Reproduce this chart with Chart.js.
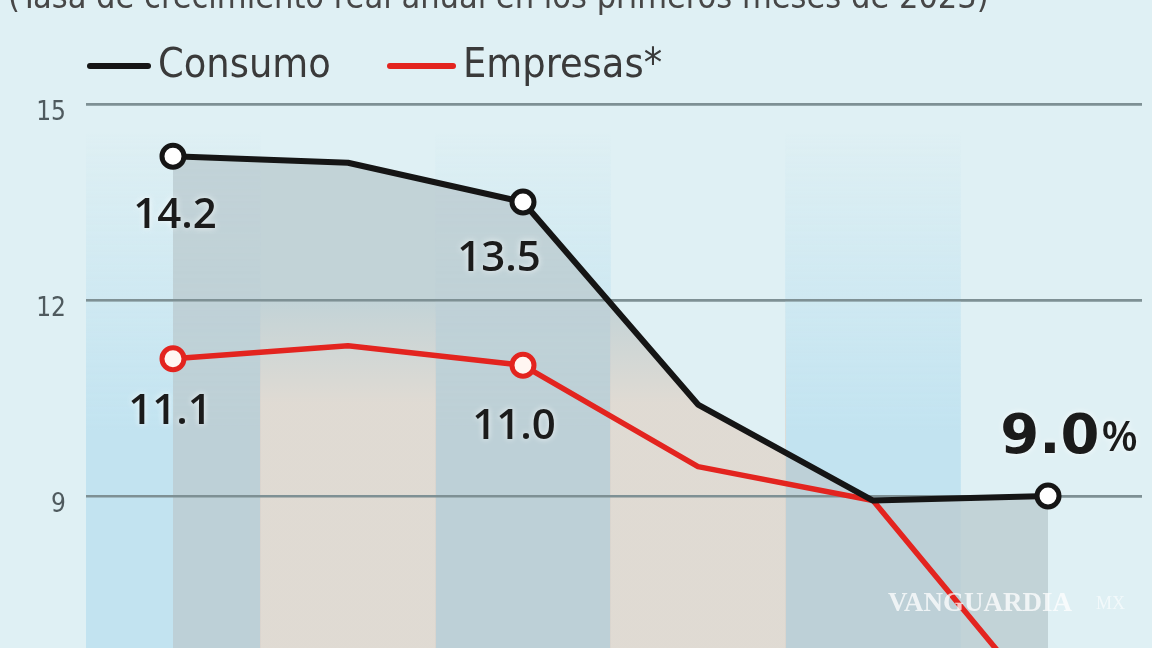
<!DOCTYPE html>
<html lang="es">
<head>
  <meta charset="UTF-8" />
  <title>Crédito al consumo y a empresas</title>
  <script src="https://cdn.jsdelivr.net/npm/chart.js@4.4.1/dist/chart.umd.min.js"></script>
  <style>
    html, body { margin: 0; padding: 0; background: #dff0f4; }
    .wrap { position: relative; width: 1152px; height: 648px; overflow: hidden; }
  </style>
</head>
<body>
  <div class="wrap"><canvas id="grafica" width="1152" height="648"></canvas></div>

  <script>
  const titulo   = '(Tasa de crecimiento real anual en los primeros meses de 2023)';
  const series   = ['Consumo', 'Empresas*'];
  const periodos = [0, 1, 2, 3, 4, 5];
  const consumo  = [14.2, 14.1, 13.5, 10.4, 8.93, 9.0];
  const empresas = [11.1, 11.3, 11.0, 9.45, 8.93, 5.7];
  const marcasConsumo  = [0, 2, 5];
  const marcasEmpresas = [0, 2];
  const etiquetasConsumo  = ['14.2', null, '13.5', null, null, '9.0'];
  const etiquetasEmpresas = ['11.1', null, '11.0', null, null, null];
  const bandas = [15, 15, 15, 15, 15];   // franjas de fondo, una por periodo
  const yTicks = [9, 12, 15];

  (function () {
    const narrow = '"Liberation Sans Narrow", "DejaVu Sans Condensed", sans-serif';
    const open   = '"Open Sans", "Liberation Sans", sans-serif';
    const NEGRO = '#151515', ROJO = '#e3241f';

    // desplazamiento de cada etiqueta respecto a su punto (px)
    const despConsumo  = [[2, 60], null, [-24, 57], null, null, [20, -58]];
    const despEmpresas = [[-3, 53], null, [-9, 62]];

    const pts = arr => periodos.map((p, i) => ({ x: p, y: arr[i] }));

    function degradado(ctx, rgb, desde, hasta) {
      const a = ctx.chart.chartArea;
      if (!a) return `rgb(${rgb})`;
      const g = ctx.chart.ctx.createLinearGradient(0, a.top, 0, a.bottom);
      g.addColorStop(0, `rgba(${rgb},0)`);
      g.addColorStop(desde, `rgba(${rgb},0)`);
      g.addColorStop(hasta, `rgba(${rgb},1)`);
      g.addColorStop(1, `rgba(${rgb},1)`);
      return g;
    }

    // franjas alternas: azules en los periodos pares, beige en los impares
    const azules = bandas.map((v, i) => ({ x: periodos[i], y: i % 2 === 0 ? v : null }));
    const beiges = bandas.map((v, i) => ({ x: periodos[i], y: i % 2 === 1 ? v : null }));

    // las franjas beige solo se ven dentro del área sombreada;
    // luego se repasa la rejilla para que quede encima del sombreado
    const mezcla = {
      id: 'mezcla',
      beforeDatasetDraw(chart, args) {
        if (chart.data.datasets[args.index].label !== 'beige') return;
        chart.ctx.save();
        chart.ctx.globalCompositeOperation = 'source-atop';
      },
      afterDatasetDraw(chart, args) {
        if (chart.data.datasets[args.index].label !== 'beige') return;
        chart.ctx.restore();
        chart.scales.y.drawGrid(chart.chartArea);
      }
    };

    const textos = {
      id: 'textos',
      afterDraw(chart) {
        const ctx = chart.ctx;
        const sx = chart.scales.x, sy = chart.scales.y;
        ctx.save();

        // título (cortado por arriba en el original)
        ctx.font = '34px ' + narrow;
        ctx.fillStyle = '#474747';
        ctx.textBaseline = 'alphabetic';
        ctx.textAlign = 'left';
        ctx.fillText(titulo, 8, 8);

        // leyenda
        ctx.lineCap = 'round';
        ctx.lineWidth = 6;
        [[NEGRO, 90, 148, 158], [ROJO, 390, 453, 463]].forEach(([c, x0, x1, tx], i) => {
          ctx.strokeStyle = c;
          ctx.beginPath(); ctx.moveTo(x0, 66); ctx.lineTo(x1, 66); ctx.stroke();
          ctx.font = '41px ' + narrow;
          ctx.fillStyle = '#3a3a3a';
          ctx.textBaseline = 'middle';
          ctx.fillText(series[i], tx, 66);
        });

        // etiquetas de valores
        ctx.textAlign = 'center';
        ctx.textBaseline = 'middle';
        ctx.fillStyle = '#1b1b1b';
        ctx.shadowColor = 'rgba(255,255,255,0.8)';
        ctx.shadowBlur = 6;
        const grande = 'bold 56px "DejaVu Sans", sans-serif';
        const pinta = (vals, etiq, desp) => {
          etiq.forEach((t, i) => {
            if (!t) return;
            const x = sx.getPixelForValue(periodos[i]) + desp[i][0];
            const y = sy.getPixelForValue(vals[i]) + desp[i][1];
            if (i === periodos.length - 1) {
              ctx.font = grande;
              const w1 = ctx.measureText(t).width;
              ctx.font = '600 42px ' + open;
              const w2 = ctx.measureText('%').width;
              const x0 = x - (w1 + w2) / 2;
              ctx.textAlign = 'left';
              ctx.font = grande;
              ctx.fillText(t, x0, y);
              ctx.font = '600 42px ' + open;
              ctx.fillText('%', x0 + w1 + 2, y + 1);
              ctx.textAlign = 'center';
            } else {
              ctx.font = '600 42px ' + open;
              ctx.fillText(t, x, y);
            }
          });
        };
        pinta(consumo, etiquetasConsumo, despConsumo);
        pinta(empresas, etiquetasEmpresas, despEmpresas);

        // marca de agua
        ctx.shadowBlur = 0;
        ctx.textAlign = 'left';
        ctx.font = 'bold 27px "Liberation Serif", serif';
        ctx.fillStyle = 'rgba(255,255,255,0.75)';
        ctx.fillText('VANGUARDIA', 888, 604);
        ctx.font = '18px "Liberation Serif", serif';
        ctx.fillStyle = 'rgba(255,255,255,0.6)';
        ctx.fillText('MX', 1096, 604);
        ctx.restore();
      }
    };

    new Chart(document.getElementById('grafica'), {
      data: {
        datasets: [
          { type: 'line', label: series[0], data: pts(consumo), order: 0,
            borderColor: NEGRO, borderWidth: 6, tension: 0, fill: false,
            borderJoinStyle: 'round', borderCapStyle: 'round',
            pointRadius: c => marcasConsumo.includes(c.dataIndex) ? 11 : 0,
            pointBorderWidth: 5, pointBorderColor: NEGRO, pointBackgroundColor: '#ffffff' },
          { type: 'line', label: series[1], data: pts(empresas), order: 1,
            borderColor: ROJO, borderWidth: 5.5, tension: 0, fill: false,
            borderJoinStyle: 'round', borderCapStyle: 'round',
            pointRadius: c => marcasEmpresas.includes(c.dataIndex) ? 11 : 0,
            pointBorderWidth: 5, pointBorderColor: ROJO, pointBackgroundColor: '#fff6f2' },
          { type: 'bar', label: 'beige', data: beiges, order: 3, grouped: false,
            barPercentage: 1, categoryPercentage: 1, borderWidth: 0,
            backgroundColor: c => degradado(c, '224,213,204', 0.36, 0.55) },
          { type: 'line', label: 'area', data: pts(consumo), order: 4,
            borderWidth: 0, pointRadius: 0, tension: 0, fill: 'start',
            backgroundColor: 'rgba(188,204,209,0.82)' },
          { type: 'bar', label: 'azul', data: azules, order: 5, grouped: false,
            barPercentage: 1, categoryPercentage: 1, borderWidth: 0,
            backgroundColor: c => degradado(c, '194,227,240', 0.05, 0.6) }
        ]
      },
      options: {
        responsive: false,
        devicePixelRatio: 1,
        animation: false,
        events: [],
        layout: { autoPadding: false, padding: { top: 104, left: 38, right: 10, bottom: 0 } },
        plugins: { legend: { display: false }, tooltip: { enabled: false } },
        scales: {
          x: { type: 'linear', min: -0.497, max: 5.537, offset: false, display: false,
               afterBuildTicks: s => { s.ticks = periodos.map(v => ({ value: v })); } },
          y: {
            min: 6.673, max: 15,
            afterBuildTicks: s => { s.ticks = yTicks.map(v => ({ value: v })); },
            afterFit: s => { s.width = 48; s.paddingTop = 0; s.paddingBottom = 0; },
            border: { display: false },
            grid: { color: '#7e9094', lineWidth: 2.5, drawTicks: false },
            ticks: { padding: 20, labelOffset: 9, color: '#4f5a5e',
                     font: { family: narrow, size: 26 } }
          }
        }
      },
      plugins: [mezcla, textos]
    });
  })();
  </script>
</body>
</html>
